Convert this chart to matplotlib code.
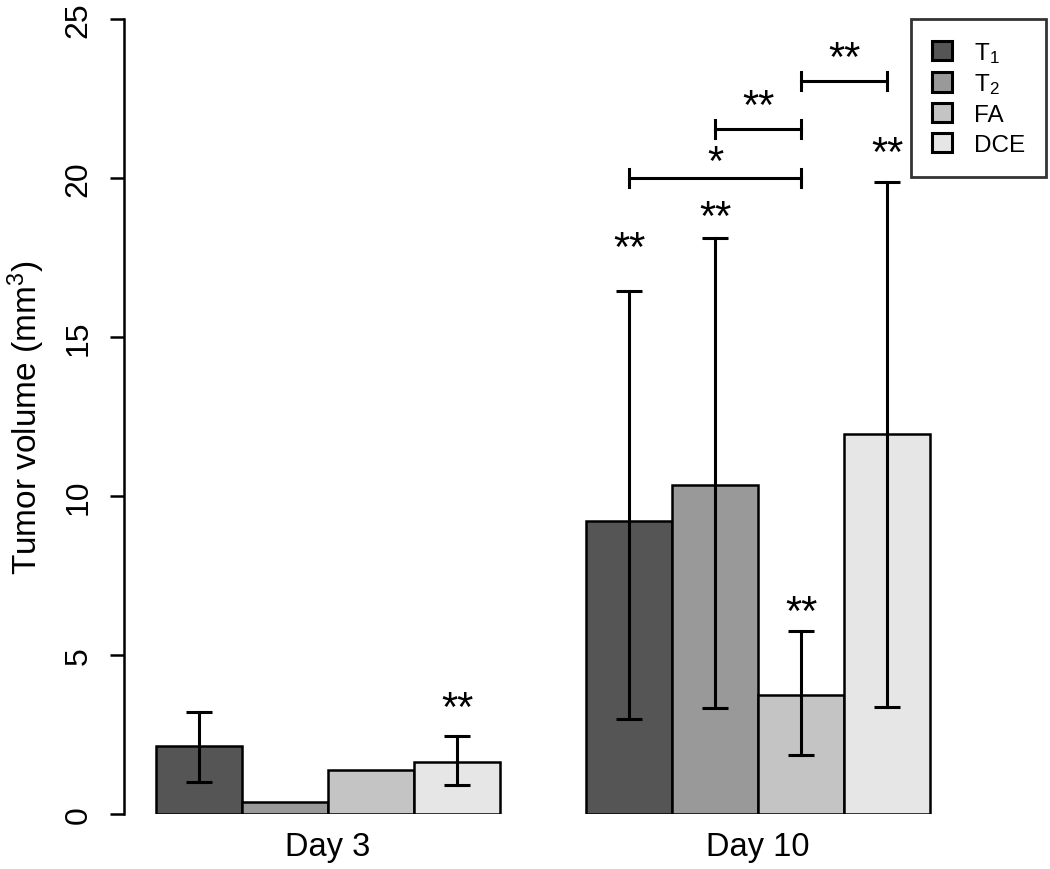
import matplotlib
matplotlib.use("Agg")
import matplotlib.pyplot as plt
from matplotlib.patches import Patch

plt.rcParams["font.family"] = ["Liberation Sans", "DejaVu Sans"]
plt.rcParams["mathtext.fontset"] = "custom"
plt.rcParams["mathtext.rm"] = "Liberation Sans"
plt.rcParams["mathtext.it"] = "Liberation Sans"
plt.rcParams["mathtext.default"] = "regular"

# ---- data ----
days = ["Day 3", "Day 10"]
methods = ["T$_1$", "T$_2$", "FA", "DCE"]
colors = ["#555555", "#999999", "#c4c4c4", "#e6e6e6"]

means = {
    "Day 3": [2.15, 0.38, 1.38, 1.65],
    "Day 10": [9.2, 10.35, 3.75, 11.95],
}
err_low = {
    "Day 3": [1.0, None, None, 0.92],
    "Day 10": [3.0, 3.32, 1.87, 3.38],
}
err_high = {
    "Day 3": [3.22, None, None, 2.44],
    "Day 10": [16.45, 18.12, 5.76, 19.87],
}
# significance marks above single bars: (day, method index, y)
bar_stars = [("Day 3", 3, 3.52), ("Day 10", 0, 18.0), ("Day 10", 1, 18.96),
             ("Day 10", 2, 6.54), ("Day 10", 3, 20.97)]
# brackets between Day 10 bars: (from idx, to idx, line y, label y, label)
brackets = [(0, 2, 20.0, 20.7, "*"), (1, 2, 21.55, 22.45, "**"),
            (2, 3, 23.05, 23.96, "**")]

# ---- figure ----
fig = plt.figure(figsize=(10.5, 8.7), dpi=100)
ax = fig.add_axes([124 / 1050, 1 - 815 / 870, 922 / 1050, 795 / 870])

def xpos(day, i):
    return days.index(day) * 5 + i + 0.5

def stars(x, y, s):
    ax.annotate(s, (x, y), xytext=(0, -5), textcoords="offset points",
                ha="center", va="center", fontsize=30, zorder=4)

for day in days:
    for i, m in enumerate(methods):
        x = xpos(day, i)
        ax.bar(x, means[day][i], width=1.0, color=colors[i],
               edgecolor="black", linewidth=1.8, zorder=2)
        lo, hi = err_low[day][i], err_high[day][i]
        if lo is not None:
            ax.plot([x, x], [lo, hi], color="black", lw=2.2, zorder=3)
            for yv in (lo, hi):
                ax.plot([x - 0.15, x + 0.15], [yv, yv], color="black",
                        lw=2.2, zorder=3, solid_capstyle="butt")

for day, i, y in bar_stars:
    stars(xpos(day, i), y, "**")

for a, b, y, ly, lab in brackets:
    x0, x1 = xpos("Day 10", a), xpos("Day 10", b)
    ax.plot([x0, x1], [y, y], color="black", lw=2.2)
    for xv in (x0, x1):
        ax.plot([xv, xv], [y - 0.28, y + 0.28], color="black", lw=2.2)
    stars((x0 + x1) / 2, ly, lab)

ax.set_xlim((124 - 156) / 86.0, (1046 - 156) / 86.0)
ax.set_ylim(0, 25)
for s in ("top", "right", "bottom"):
    ax.spines[s].set_visible(False)
ax.spines["left"].set_linewidth(1.8)
ax.spines["left"].set_bounds(0, 25)

ax.set_yticks([0, 5, 10, 15, 20, 25])
ax.set_yticklabels(["0", "5", "10", "15", "20", "25"], rotation=90,
                   va="center", fontsize=23)
ax.tick_params(axis="y", length=10, width=1.8, pad=12)
ax.set_xticks([2, 7])
ax.set_xticklabels(days, fontsize=23.5)
ax.tick_params(axis="x", length=0, pad=12)
ax.set_ylabel("Tumor volume (mm$^3$)", fontsize=24, labelpad=12)

handles = [Patch(facecolor=c, edgecolor="black", linewidth=2.2) for c in colors]
leg = fig.legend(handles, methods, loc="upper right",
                 bbox_to_anchor=(1046 / 1050, 1 - 20 / 870),
                 fontsize=17.5, frameon=True, fancybox=False,
                 handlelength=0.85, handleheight=0.85, handletextpad=0.9,
                 borderpad=0.85, labelspacing=0.28, borderaxespad=0)
leg.get_frame().set_edgecolor("black")
leg.get_frame().set_linewidth(2.0)

fig.savefig("out.png", dpi=100, facecolor="white")
